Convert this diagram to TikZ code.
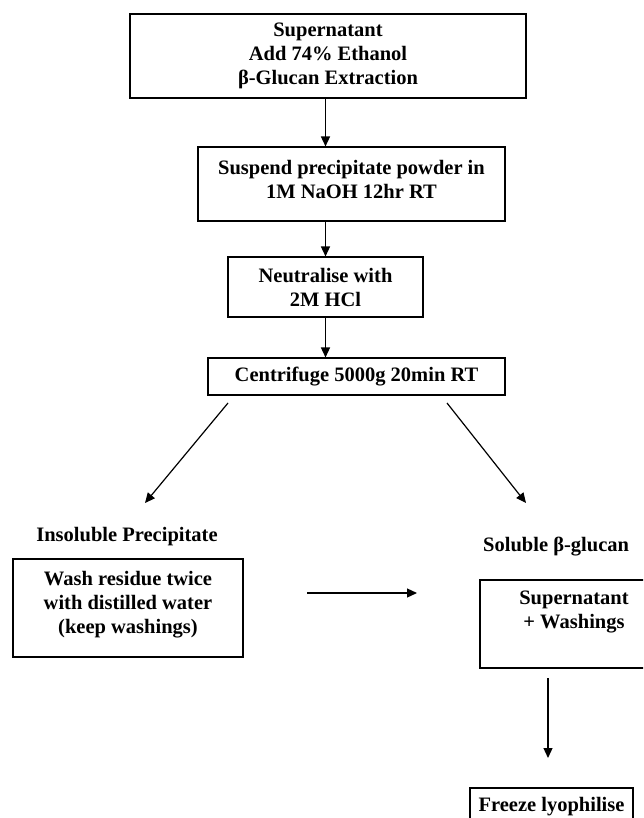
\documentclass[tikz,border=0pt]{standalone}
\usepackage{fontspec}
\setmainfont{Liberation Serif}
\usepackage{tikz}
\usetikzlibrary{arrows.meta}

\tikzset{
    procbox/.style={draw, line width=1.1pt, rectangle, align=center, inner sep=2pt,
        font=\fontsize{20.5}{24}\selectfont\bfseries},
    headlabel/.style={inner sep=0pt, font=\fontsize{20.5}{24}\selectfont\bfseries},
    flowarrow/.style={line width=1.5pt, -{Triangle[length=10pt,width=9pt]}}
}

\begin{document}
\begin{tikzpicture}[x=1pt,y=-1pt]
        \useasboundingbox (0,0) rectangle (643,818);
        \clip (0,0) rectangle (643,818);
        % main column
        \node[procbox, minimum width=396, minimum height=84] (extract) at (328,56)
            {Supernatant\\Add 74\% Ethanol\\β-Glucan Extraction};
        \node[procbox, minimum width=307, minimum height=74, text depth=10pt] (suspend) at (351.5,184)
            {Suspend precipitate powder in\\1M NaOH 12hr RT};
        \node[procbox, minimum width=195, minimum height=60] (neutral) at (325.5,287)
            {Neutralise with\\2M HCl};
        \node[procbox, minimum width=297, minimum height=37] (centri) at (356.5,376.5)
            {Centrifuge 5000g 20min RT};
        % two branches
        \node[headlabel] (insol) at (127,537) {Insoluble Precipitate};
        \node[headlabel, anchor=west] (sol) at (483,547) {Soluble β-glucan};
        \node[procbox, minimum width=230, minimum height=98, text depth=12pt] (wash) at (128,608)
            {Wash residue twice\\with distilled water\\(keep washings)};
        \node[procbox, minimum width=188, minimum height=88, text depth=28pt] (super) at (574,624)
            {Supernatant\\+ Washings};
        \node[procbox, minimum width=163, minimum height=38] (freeze) at (551.5,807)
            {Freeze lyophilise};

        \coordinate (lstart) at (228,403);
        \coordinate (lend) at (145,503);
        \coordinate (rstart) at (447,403);
        \coordinate (rend) at (526,503);
        \coordinate (hstart) at (307,593);
        \coordinate (hend) at (417,593);
        \coordinate (dstart) at (548,678);
        \coordinate (dend) at (548,758);

        \draw[flowarrow] (neutral.north |- extract.south) -- (neutral.north |- suspend.north);
        \draw[flowarrow] (neutral.north |- suspend.south) -- (neutral.north);
        \draw[flowarrow] (neutral.south) -- (neutral.south |- centri.north);
        \draw[flowarrow, line width=1.2pt] (lstart) -- (lend);
        \draw[flowarrow, line width=1.2pt] (rstart) -- (rend);
        \draw[flowarrow, line width=1.2pt] (hstart) -- (hend);
        \draw[flowarrow, line width=1.2pt] (dstart) -- (dend);
    \end{tikzpicture}
\end{document}
